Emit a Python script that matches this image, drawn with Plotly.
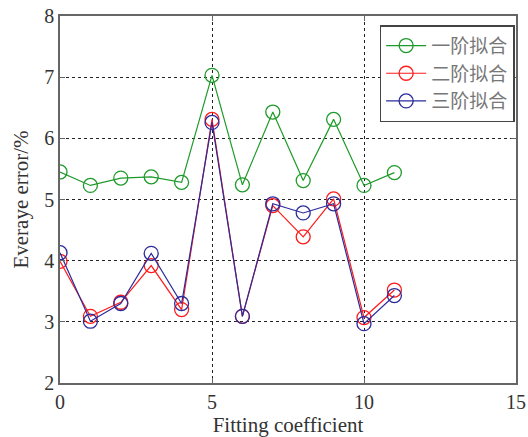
import plotly.graph_objects as go

# Fitting coefficient index
coef = list(range(12))

# Average error (%) for each fitting order
first_order = [5.45, 5.23, 5.35, 5.37, 5.28, 7.03, 5.24, 6.43, 5.31, 6.31, 5.23, 5.44]
second_order = [3.99, 3.09, 3.32, 3.92, 3.20, 6.31, 3.09, 4.90, 4.39, 5.01, 3.07, 3.52]
third_order = [4.13, 3.01, 3.30, 4.12, 3.30, 6.26, 3.09, 4.93, 4.78, 4.93, 2.97, 3.43]

names = ["一阶拟合", "二阶拟合", "三阶拟合"]
colors = ["#1e9a2a", "#ff1a1a", "#2b2b9c"]

fig = go.Figure()
for ys, name, col in zip([first_order, second_order, third_order], names, colors):
    fig.add_trace(go.Scatter(
        x=coef, y=ys, name=name, mode="lines+markers",
        line=dict(color=col, width=1.2),
        marker=dict(symbol="circle-open", size=14, color=col, line=dict(width=1.3, color=col)),
    ))

axis_common = dict(
    showline=True, linecolor="#666666", linewidth=1.5, mirror="ticks",
    ticks="inside", ticklen=5, tickcolor="#666666",
    showgrid=True, gridcolor="#222222", griddash="dot", gridwidth=1,
    zeroline=False, automargin=False,
    tickfont=dict(family="Liberation Serif", size=20, color="#333333"),
)

fig.update_layout(
    width=528, height=437,
    margin=dict(l=60, r=12, t=16, b=54),
    plot_bgcolor="white", paper_bgcolor="white",
    xaxis=dict(range=[0, 15], dtick=5,
               title=dict(text="Fitting coefficient", standoff=2,
                          font=dict(family="Liberation Serif", size=21, color="#333333")),
               **axis_common),
    yaxis=dict(range=[2, 8], dtick=1,
               title=dict(text="Everaye error/%", standoff=10,
                          font=dict(family="Liberation Serif", size=21, color="#333333")),
               **axis_common),
    legend=dict(
        x=0.997, y=0.975, xanchor="right", yanchor="top",
        bgcolor="white", bordercolor="#444444", borderwidth=1.5,
        font=dict(family="Noto Sans CJK SC", size=19, color="#777777"),
        itemwidth=40, tracegroupgap=0,
    ),
    showlegend=True,
)

fig.write_html("out.html")
